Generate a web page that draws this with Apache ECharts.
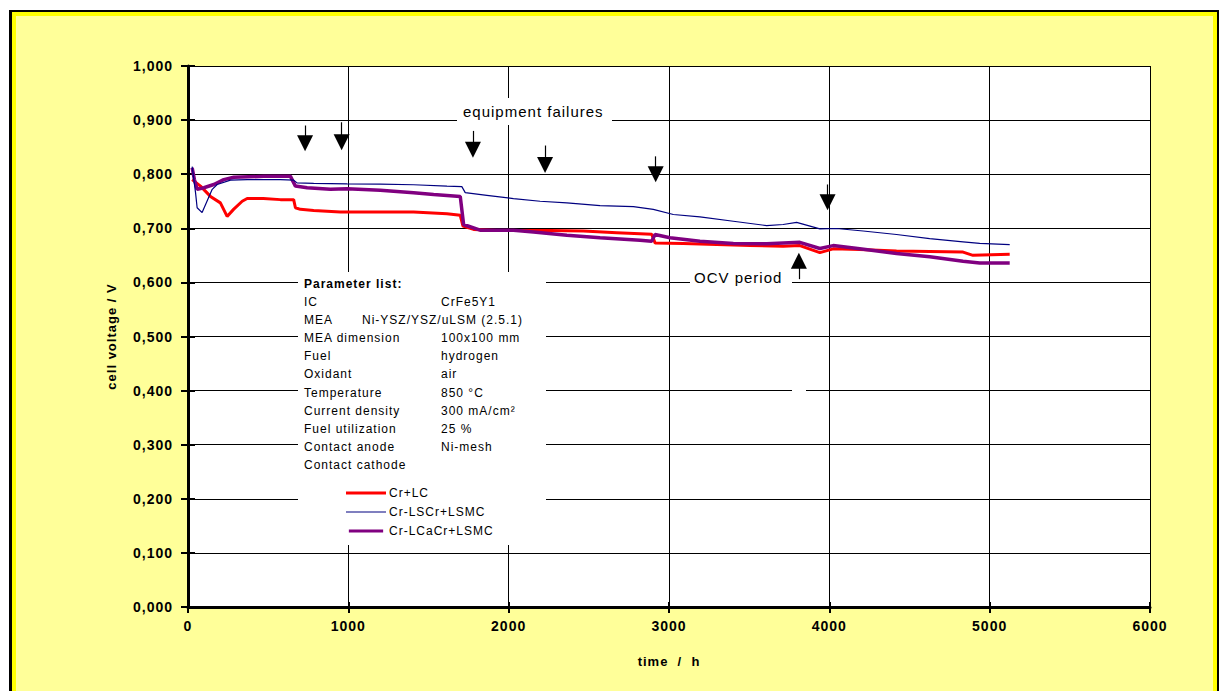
<!DOCTYPE html>
<html>
<head>
<meta charset="utf-8">
<script src="https://cdn.jsdelivr.net/npm/echarts@6/dist/echarts.min.js"></script>
<style>
  html, body { margin: 0; padding: 0; background: #ffffff; }
  #frame {
    position: absolute; left: 9px; top: 10px; width: 1205px; height: 720px;
    border-style: solid; border-color: #000; border-width: 2px 2px 2px 3px;
    background: #FFFF99; box-shadow: inset 0 0 0 4px #FFFF00;
  }
  #chart { position: absolute; left: 0; top: 0; width: 1219px; height: 691px; }
  #chart text { letter-spacing: 1px; }
</style>
</head>
<body>
<div id="frame"></div>
<div id="chart"></div>
<script>
// Operating time (h) and cell voltage (V) for each interconnect coating
const hoursRed = [26, 78, 140, 202, 244, 284, 338, 369, 470, 576, 659, 670, 701, 784, 950, 1199, 1407, 1615, 1698, 1715, 1781, 1926, 2134, 2259, 2466, 2674, 2892, 2913, 3089, 3297, 3505, 3712, 3816, 3941, 4024, 4190, 4419, 4626, 4834, 4896, 5125];
const voltsRed = [0.790, 0.778, 0.759, 0.747, 0.722, 0.735, 0.750, 0.755, 0.755, 0.753, 0.753, 0.738, 0.735, 0.733, 0.730, 0.730, 0.730, 0.727, 0.724, 0.704, 0.698, 0.696, 0.696, 0.696, 0.695, 0.692, 0.689, 0.673, 0.672, 0.670, 0.668, 0.667, 0.668, 0.655, 0.662, 0.661, 0.658, 0.657, 0.656, 0.650, 0.652];

const hoursBlue = [26, 47, 57, 88, 151, 182, 265, 369, 576, 659, 680, 784, 992, 1199, 1407, 1615, 1708, 1729, 1864, 2030, 2196, 2363, 2570, 2778, 2902, 3027, 3193, 3401, 3609, 3712, 3796, 3941, 4045, 4211, 4419, 4626, 4834, 4938, 5125];
const voltsBlue = [0.814, 0.766, 0.738, 0.729, 0.772, 0.781, 0.789, 0.790, 0.790, 0.789, 0.784, 0.783, 0.782, 0.7815, 0.7805, 0.778, 0.777, 0.766, 0.761, 0.755, 0.750, 0.747, 0.742, 0.740, 0.735, 0.7255, 0.721, 0.713, 0.705, 0.707, 0.711, 0.699, 0.6996, 0.695, 0.6885, 0.681, 0.675, 0.672, 0.670];

const hoursPurple = [26, 40, 57, 99, 161, 223, 286, 472, 639, 670, 743, 888, 992, 1199, 1407, 1532, 1698, 1719, 1822, 2030, 2155, 2363, 2570, 2819, 2892, 2913, 3006, 3193, 3401, 3609, 3816, 3941, 4024, 4190, 4419, 4626, 4834, 4938, 5125];
const voltsPurple = [0.812, 0.790, 0.772, 0.775, 0.781, 0.790, 0.7945, 0.796, 0.796, 0.778, 0.775, 0.772, 0.773, 0.7705, 0.7656, 0.7625, 0.759, 0.707, 0.6965, 0.6965, 0.693, 0.687, 0.6824, 0.678, 0.676, 0.6885, 0.6824, 0.676, 0.672, 0.6714, 0.674, 0.6627, 0.668, 0.662, 0.6534, 0.6473, 0.639, 0.636, 0.636];

const seriesNames = ['Cr+LC', 'Cr-LSCr+LSMC', 'Cr-LCaCr+LSMC'];

// Equipment failure markers (time, arrow tail, arrow head centre)
const failureHours = [730, 958, 1777, 2227, 2917, 3989];
const failureFrom  = [0.890, 0.896, 0.880, 0.853, 0.833, 0.781];
const failureTo    = [0.857, 0.859, 0.845, 0.817, 0.800, 0.748];
// OCV period marker
const ocvHour = 3810, ocvFrom = 0.606, ocvTo = 0.640;

const paramNames = ['IC', 'MEA', 'MEA dimension', 'Fuel', 'Oxidant', 'Temperature', 'Current density', 'Fuel utilization', 'Contact anode', 'Contact cathode'];
const paramValues = ['CrFe5Y1', 'Ni-YSZ/YSZ/uLSM (2.5.1)', '100x100 mm', 'hydrogen', 'air', '850 °C', '300 mA/cm²', '25 %', 'Ni-mesh', ''];

const FONT = '"Liberation Sans", Arial, sans-serif';
const zip = (xs, ys) => xs.map((x, i) => [x, ys[i]]);

const arrowData = failureHours.map((h, i) => [{ coord: [h, failureFrom[i]] }, { coord: [h, failureTo[i]] }]);
arrowData.push([{ coord: [ocvHour, ocvFrom] }, { coord: [ocvHour, ocvTo] }]);

// Parameter list text block
const paramTexts = [{
  type: 'text', left: 304, top: 278, z: 10,
  style: { text: 'Parameter list:', font: 'bold 12px ' + FONT, fill: '#000' }
}];
paramNames.forEach((n, i) => {
  const y = 296 + i * 18.1;
  paramTexts.push({ type: 'text', left: 304, top: y, z: 10, style: { text: n, font: '12px ' + FONT, fill: '#000' } });
  if (paramValues[i]) {
    paramTexts.push({ type: 'text', left: i === 1 ? 362 : 441, top: y, z: 10, style: { text: paramValues[i], font: '12px ' + FONT, fill: '#000' } });
  }
});

const chart = echarts.init(document.getElementById('chart'), null, { renderer: 'svg' });
const axisLineStyle = { color: '#000', width: 3 };
const splitStyle = { show: true, lineStyle: { color: '#000', width: 1 } };

chart.setOption({
  backgroundColor: 'transparent',
  animation: false,
  grid: { left: 188, top: 66, right: 69, bottom: 84, show: true, backgroundColor: '#fff', borderWidth: 0 },
  xAxis: [{
    type: 'value', min: 0, max: 6000, interval: 1000, position: 'bottom',
    name: 'time\u00A0\u00A0/\u00A0\u00A0h', nameLocation: 'middle', nameGap: 48,
    nameTextStyle: { fontFamily: FONT, fontWeight: 'bold', fontSize: 13, color: '#000' },
    axisLine: { show: true, onZero: false, lineStyle: axisLineStyle },
    axisTick: { show: true, length: 6, lineStyle: { color: '#000', width: 2 } },
    axisLabel: { margin: 12, fontFamily: FONT, fontWeight: 'bold', fontSize: 14, color: '#000',
      formatter: v => String(v) },
    splitLine: splitStyle
  }, {
    type: 'value', min: 0, max: 6000, interval: 1000, position: 'bottom',
    axisLine: { show: false }, axisLabel: { show: false }, splitLine: { show: false },
    axisTick: { show: true, inside: true, length: 5, lineStyle: { color: '#000', width: 2 } }
  }],
  yAxis: [{
    type: 'value', min: 0, max: 1, interval: 0.1, position: 'left',
    name: 'cell voltage / V', nameLocation: 'middle', nameGap: 70, nameRotate: 90,
    nameTextStyle: { fontFamily: FONT, fontWeight: 'bold', fontSize: 13, color: '#000' },
    axisLine: { show: true, onZero: false, lineStyle: axisLineStyle },
    axisTick: { show: true, length: 7, lineStyle: { color: '#000', width: 2 } },
    axisLabel: { margin: 15, fontFamily: FONT, fontWeight: 'bold', fontSize: 14, color: '#000',
      formatter: v => v.toFixed(3).replace('.', ',') },
    splitLine: splitStyle
  }, {
    type: 'value', min: 0, max: 1, interval: 0.1, position: 'left',
    axisLine: { show: false }, axisLabel: { show: false }, splitLine: { show: false },
    axisTick: { show: true, inside: true, length: 7, lineStyle: { color: '#000', width: 2 } }
  }],
  legend: {
    orient: 'vertical', left: 346, top: 486, padding: 0, itemGap: 5,
    itemWidth: 40, itemHeight: 3, selectedMode: false, z: 20,
    textStyle: { fontFamily: FONT, fontSize: 12, color: '#000', lineHeight: 14, padding: [0, 0, 0, -2] },
    data: [
      { name: seriesNames[0], icon: 'path://M0,0H40V3H0Z' },
      { name: seriesNames[1], icon: 'path://M0,0H40V1.2H0Z' },
      { name: seriesNames[2], icon: 'path://M0,0H40V3.5H0Z' }
    ]
  },
  graphic: [
    // white label boxes sitting on top of the grid lines
    { type: 'rect', z: 5, shape: { x: 298, y: 272, width: 248, height: 273 }, style: { fill: '#fff' } },
    { type: 'rect', z: 5, shape: { x: 457, y: 98, width: 155, height: 27 }, style: { fill: '#fff' } },
    { type: 'rect', z: 5, shape: { x: 690, y: 270, width: 102, height: 18 }, style: { fill: '#fff' } },
    { type: 'rect', z: 5, shape: { x: 792, y: 386, width: 14, height: 10 }, style: { fill: '#fff' } },
    { type: 'text', z: 10, left: 463, top: 104, style: { text: 'equipment failures', font: '15px ' + FONT, fill: '#000' } },
    { type: 'text', z: 10, left: 694, top: 270, style: { text: 'OCV period', font: '15px ' + FONT, fill: '#000' } }
  ].concat(paramTexts),
  series: [
    {
      name: seriesNames[0], type: 'line', data: zip(hoursRed, voltsRed), showSymbol: false,
      lineStyle: { color: '#FF0000', width: 3 }, itemStyle: { color: '#FF0000' }, z: 2,
      emphasis: { disabled: true },
      markLine: {
        silent: true, animation: false, symbol: ['none', 'triangle'], symbolSize: 16,
        lineStyle: { color: '#000', width: 1.2, type: 'solid' },
        itemStyle: { color: '#000' },
        label: { show: false }, emphasis: { disabled: true },
        data: arrowData
      }
    },
    {
      name: seriesNames[2], type: 'line', data: zip(hoursPurple, voltsPurple), showSymbol: false,
      lineStyle: { color: '#800080', width: 3.5 }, itemStyle: { color: '#800080' }, z: 3,
      emphasis: { disabled: true }
    },
    {
      name: seriesNames[1], type: 'line', data: zip(hoursBlue, voltsBlue), showSymbol: false,
      lineStyle: { color: '#000080', width: 1.2 }, itemStyle: { color: '#000080' }, z: 4,
      emphasis: { disabled: true }
    }
  ]
});
</script>
</body>
</html>
